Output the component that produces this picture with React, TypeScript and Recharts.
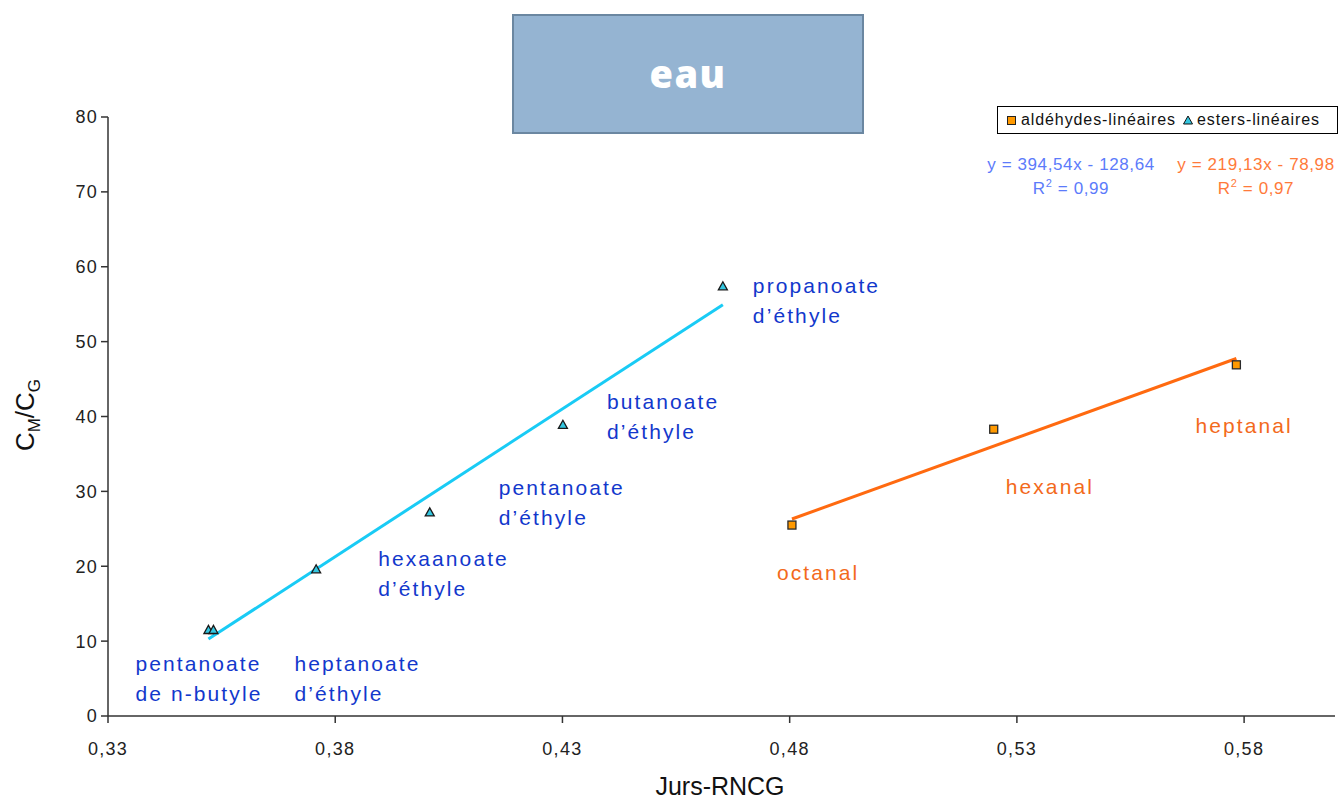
import React from 'react';
import { ScatterChart, Scatter, XAxis, YAxis } from 'recharts';

// ---- data ----
const esterNames: string[][] = [
  ['pentanoate', 'de n-butyle'],
  ['heptanoate', 'd’éthyle'],
  ['hexaanoate', 'd’éthyle'],
  ['pentanoate', 'd’éthyle'],
  ['butanoate', 'd’éthyle'],
  ['propanoate', 'd’éthyle'],
];
const esterX = [0.3521, 0.3532, 0.3758, 0.4008, 0.4301, 0.4653];
const esterY = [11.5, 11.5, 19.6, 27.2, 38.9, 57.4];

const aldNames = ['octanal', 'hexanal', 'heptanal'];
const aldX = [0.4805, 0.5249, 0.5783];
const aldY = [25.5, 38.3, 46.9];

const esterSlope = 394.54;
const esterIntercept = -128.64;
const esterR2 = '0,99';
const aldSlope = 219.13;
const aldIntercept = -78.98;
const aldR2 = '0,97';

const xTicks = [0.33, 0.38, 0.43, 0.48, 0.53, 0.58];
const yTicks = [0, 10, 20, 30, 40, 50, 60, 70, 80];

// ---- layout / styles (not data) ----
const esterLabelOffsets = [
  [-73, 33],
  [81, 33],
  [62, -11],
  [69, -25],
  [44, -24],
  [30, -1],
];
const aldLabelOffsets = [
  [-15, 47],
  [12, 57],
  [-41, 61],
];

const ESTER_LINE = '#19CBF5';
const ESTER_FILL = '#33C6E0';
const ESTER_TEXT = '#1238CC';
const ALD_LINE = '#FF6A10';
const ALD_FILL = '#FF9900';
const ALD_TEXT = '#F36A1C';
const FONT = '"Liberation Sans", Arial, sans-serif';

const esters = esterX.map((x, i) => ({ x, y: esterY[i], name: esterNames[i] }));
const alds = aldX.map((x, i) => ({ x, y: aldY[i], name: aldNames[i] }));

const fitLine = (xs: number[], m: number, b: number) => {
  const lo = Math.min(...xs);
  const hi = Math.max(...xs);
  return [
    { x: lo, y: m * lo + b },
    { x: hi, y: m * hi + b },
  ];
};
const esterFit = fitLine(esterX, esterSlope, esterIntercept);
const aldFit = fitLine(aldX, aldSlope, aldIntercept);

const fmt = (v: number) => v.toFixed(2).replace('.', ',');

const Empty = () => <g />;

const EsterShape = (props: any) => {
  const { cx, cy, index } = props;
  const off = esterLabelOffsets[index] || [0, 0];
  const s = 4.5;
  const lines: string[] = props.payload.name;
  return (
    <g>
      <path
        d={`M${cx},${cy - s} L${cx + s},${cy + s * 0.8} L${cx - s},${cy + s * 0.8} Z`}
        fill={ESTER_FILL}
        stroke="#1a1a1a"
        strokeWidth={1.3}
      />
      <text
        x={cx + off[0]}
        y={cy + off[1]}
        fill={ESTER_TEXT}
        fontSize={21}
        letterSpacing={2.1}
        fontFamily={FONT}
        dominantBaseline="central"
      >
        <tspan x={cx + off[0]} dy={0}>{lines[0]}</tspan>
        <tspan x={cx + off[0]} dy={30}>{lines[1]}</tspan>
      </text>
    </g>
  );
};

const AldShape = (props: any) => {
  const { cx, cy, index } = props;
  const off = aldLabelOffsets[index] || [0, 0];
  const s = 4;
  return (
    <g>
      <rect x={cx - s} y={cy - s} width={2 * s} height={2 * s} fill={ALD_FILL} stroke="#2a2a2a" strokeWidth={1.3} />
      <text
        x={cx + off[0]}
        y={cy + off[1]}
        fill={ALD_TEXT}
        fontSize={21}
        letterSpacing={2.1}
        fontFamily={FONT}
        dominantBaseline="central"
      >
        {props.payload.name}
      </text>
    </g>
  );
};

export default function App() {
  return (
    <div style={{ position: 'absolute', left: 0, top: 0, width: 1341, height: 802, background: '#fff' }}>
      <ScatterChart
        width={1341}
        height={802}
        margin={{ top: 117, right: 6, bottom: 46, left: 48 }}
      >
        <XAxis
          type="number"
          dataKey="x"
          domain={[0.33, 0.6]}
          ticks={xTicks}
          tickFormatter={fmt}
          allowDataOverflow
          height={40}
          tickSize={7}
          tickMargin={19}
          stroke="#333"
          strokeWidth={1.5}
          tick={{ fill: '#222', fontSize: 18, fontFamily: FONT, letterSpacing: 1.3 }}
        />
        <YAxis
          type="number"
          dataKey="y"
          domain={[0, 80]}
          ticks={yTicks}
          width={60}
          tickSize={7}
          tickMargin={3}
          stroke="#333"
          strokeWidth={1.5}
          tick={{ fill: '#222', fontSize: 18, fontFamily: FONT, letterSpacing: 1.3 }}
        />
        <Scatter
          data={esterFit}
          line={{ stroke: ESTER_LINE, strokeWidth: 3 }}
          shape={<Empty />}
          isAnimationActive={false}
        />
        <Scatter
          data={aldFit}
          line={{ stroke: ALD_LINE, strokeWidth: 3 }}
          shape={<Empty />}
          isAnimationActive={false}
        />
        <Scatter data={esters} shape={<EsterShape />} isAnimationActive={false} />
        <Scatter data={alds} shape={<AldShape />} isAnimationActive={false} />
      </ScatterChart>

      <svg style={{ position: 'absolute', left: 0, top: 0, pointerEvents: 'none' }} width={1341} height={802}>
        <text
          transform="translate(34,415) rotate(-90)"
          textAnchor="middle"
          fontSize={26}
          fontFamily={FONT}
          fill="#111"
        >
          C<tspan fontSize={17} dy={6}>M</tspan>
          <tspan dy={-6}>/C</tspan>
          <tspan fontSize={17} dy={6}>G</tspan>
        </text>
        <text x={720} y={795} textAnchor="middle" fontSize={25} fontFamily={FONT} fill="#111">
          Jurs-RNCG
        </text>
      </svg>

      {/* Title box */}
      <div
        style={{
          position: 'absolute',
          left: 512,
          top: 14,
          width: 352,
          height: 120,
          background: '#95B4D2',
          border: '2px solid #6B87A1',
          display: 'flex',
          alignItems: 'center',
          justifyContent: 'center',
          color: '#fff',
          fontFamily: '"Open Sans", sans-serif',
          fontWeight: 800,
          fontSize: 38,
          letterSpacing: 1.5,
          paddingBottom: 2,
          boxSizing: 'border-box',
        }}
      >
        eau
      </div>

      {/* Legend */}
      <div
        style={{
          position: 'absolute',
          left: 997,
          top: 106,
          width: 339,
          height: 26,
          border: '1px solid #000',
          background: '#fff',
          fontFamily: FONT,
          fontSize: 16,
          letterSpacing: 0.9,
          color: '#111',
          display: 'flex',
          alignItems: 'center',
          whiteSpace: 'nowrap',
        }}
      >
        <span
          style={{
            display: 'inline-block',
            width: 7,
            height: 7,
            background: ALD_FILL,
            border: '1px solid #222',
            marginLeft: 9,
            marginRight: 5,
          }}
        />
        <span>aldéhydes-linéaires</span>
        <svg width={12} height={10} style={{ marginLeft: 6, marginRight: 3 }}>
          <path d="M6,1 L10.5,9 L1.5,9 Z" fill={ESTER_FILL} stroke="#111" strokeWidth={1} />
        </svg>
        <span>esters-linéaires</span>
      </div>

      {/* Equations */}
      <div
        style={{
          position: 'absolute',
          left: 966,
          top: 153,
          width: 210,
          textAlign: 'center',
          fontFamily: FONT,
          fontSize: 17,
          letterSpacing: 0.6,
          color: '#5C7BFB',
          lineHeight: '24px',
        }}
      >
        <div>y = {fmt(esterSlope)}x - {fmt(-esterIntercept)}</div>
        <div>
          R<sup style={{ fontSize: 11, lineHeight: 0 }}>2</sup> = {esterR2}
        </div>
      </div>
      <div
        style={{
          position: 'absolute',
          left: 1156,
          top: 153,
          width: 200,
          textAlign: 'center',
          fontFamily: FONT,
          fontSize: 17,
          letterSpacing: 0.6,
          color: '#FF7A3A',
          lineHeight: '24px',
        }}
      >
        <div>y = {fmt(aldSlope)}x - {fmt(-aldIntercept)}</div>
        <div>
          R<sup style={{ fontSize: 11, lineHeight: 0 }}>2</sup> = {aldR2}
        </div>
      </div>
    </div>
  );
}
